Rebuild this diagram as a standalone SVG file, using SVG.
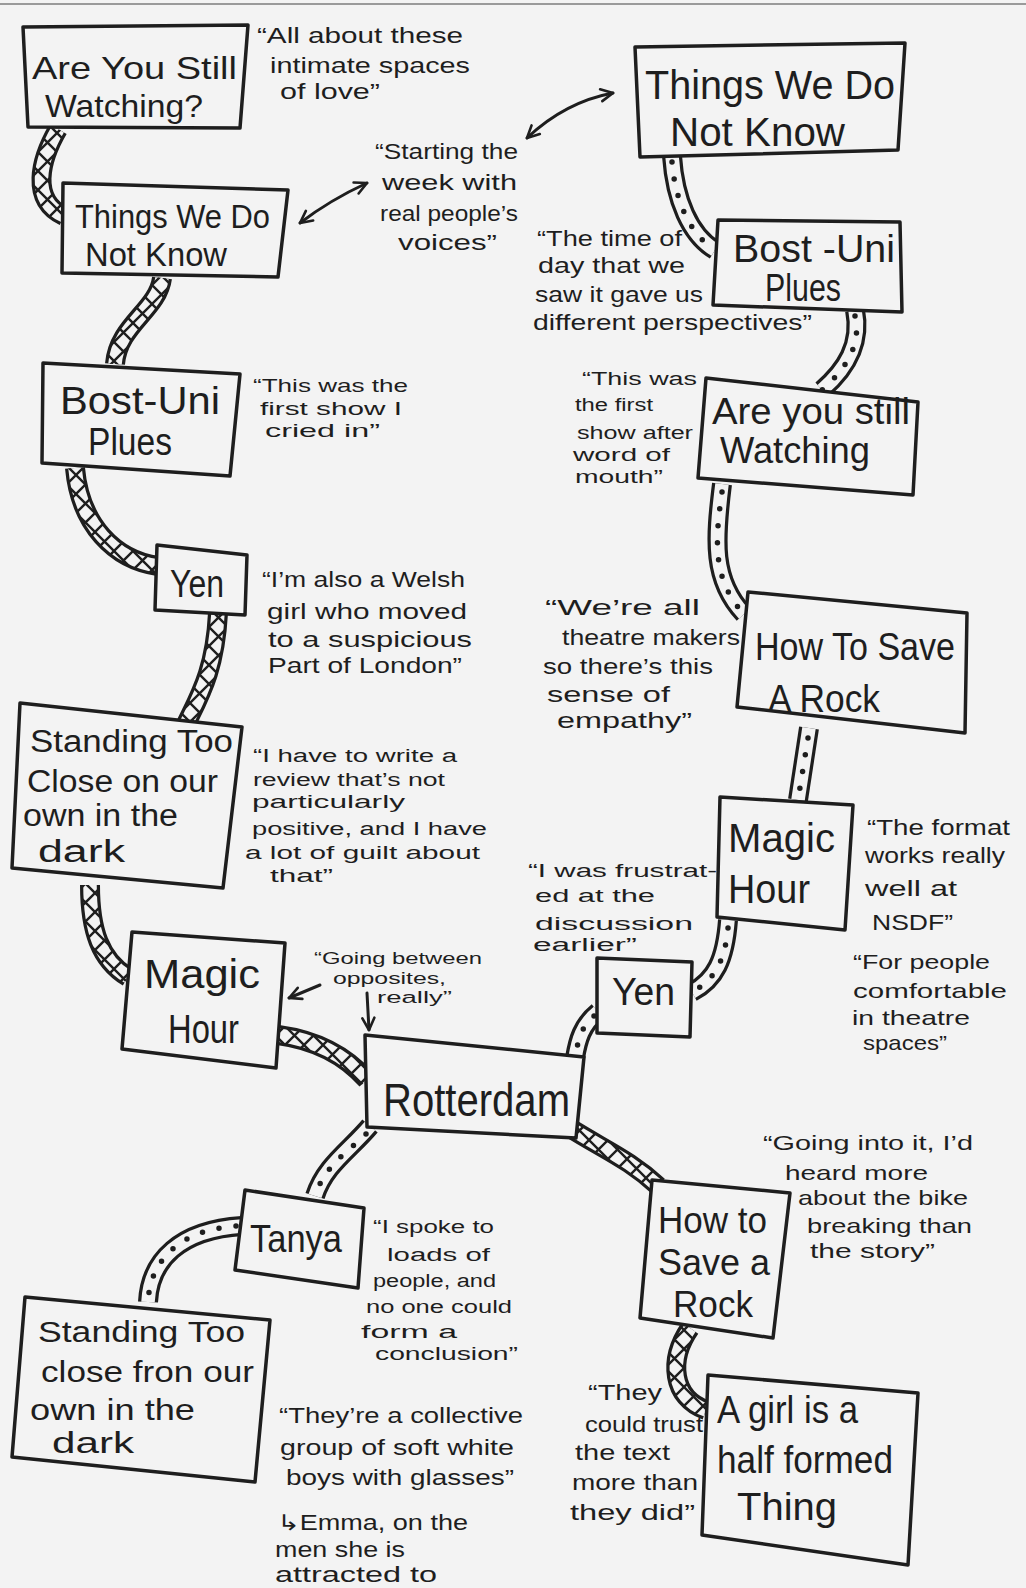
<svg xmlns="http://www.w3.org/2000/svg" width="1026" height="1588" viewBox="0 0 1026 1588">
<defs>
<style>
.bg{fill:#f3f3f3}
.box{fill:#f3f3f3;stroke:#1e1e1e;stroke-width:3.5;stroke-linejoin:round}
.nt{font-family:"Liberation Sans Narrow","Liberation Sans","DejaVu Sans",sans-serif;fill:#1e1e1e}
.qt{font-family:"Liberation Sans Narrow","Liberation Sans","DejaVu Sans",sans-serif;fill:#1e1e1e}
.ro{fill:none;stroke:#1e1e1e;stroke-width:20}
.rx{fill:none;stroke:url(#xh);stroke-width:13.5}
.rd{fill:none;stroke:#f3f3f3;stroke-width:13.5}
.dots{fill:none;stroke:#1e1e1e;stroke-width:5.5;stroke-linecap:round;stroke-dasharray:0 17}
.arr{fill:none;stroke:#1e1e1e;stroke-width:3;stroke-linecap:round}
</style>
<pattern id="xh" patternUnits="userSpaceOnUse" width="19" height="19">
<rect width="19" height="19" fill="#f3f3f3"/>
<path d="M0,0 L19,19 M19,0 L0,19" stroke="#1e1e1e" stroke-width="2.4"/>
</pattern>
<marker id="ah" viewBox="0 0 16 16" refX="14" refY="8" markerWidth="16" markerHeight="16" orient="auto-start-reverse" markerUnits="userSpaceOnUse">
<path d="M2,2 L14,8 L2,14" fill="none" stroke="#1e1e1e" stroke-width="2.6" stroke-linecap="round" stroke-linejoin="round"/>
</marker>
</defs>
<rect class="bg" x="0" y="0" width="1026" height="1588"/>
<line x1="0" y1="4" x2="1026" y2="4" stroke="#9a9a9a" stroke-width="2"/>

<g id="connectors">
<g id="c1"><path class="ro" d="M58,129 C40,160 30,200 64,216"/><path class="rx" d="M58,129 C40,160 30,200 64,216"/></g>
<g id="c2"><path class="ro" d="M162,278 C158,310 118,325 115,364"/><path class="rx" d="M162,278 C158,310 118,325 115,364"/></g>
<g id="c3"><path class="ro" d="M75,468 C80,525 115,560 158,566"/><path class="rx" d="M75,468 C80,525 115,560 158,566"/></g>
<g id="c4"><path class="ro" d="M218,613 C215,670 200,695 186,724"/><path class="rx" d="M218,613 C215,670 200,695 186,724"/></g>
<g id="c5"><path class="ro" d="M90,885 C90,930 100,960 128,977"/><path class="rx" d="M90,885 C90,930 100,960 128,977"/></g>
<g id="c6"><path class="ro" d="M278,1035 C315,1040 345,1055 367,1080"/><path class="rx" d="M278,1035 C315,1040 345,1055 367,1080"/></g>
<g id="c7"><path class="ro" d="M570,1128 C605,1150 630,1160 658,1186"/><path class="rx" d="M570,1128 C605,1150 630,1160 658,1186"/></g>
<g id="c8"><path class="ro" d="M690,1328 C668,1360 672,1398 706,1410"/><path class="rx" d="M690,1328 C668,1360 672,1398 706,1410"/></g>
<g id="d1"><path class="ro" d="M672,156 C675,200 690,235 715,250"/><path class="rd" d="M672,156 C675,200 690,235 715,250"/><path class="dots" d="M672,162 C675,200 690,235 715,250"/></g>
<g id="d2"><path class="ro" d="M855,310 C862,345 845,370 822,390"/><path class="rd" d="M855,310 C862,345 845,370 822,390"/><path class="dots" d="M855,316 C862,345 845,370 822,390"/></g>
<g id="d3"><path class="ro" d="M722,484 C715,540 712,580 744,614"/><path class="rd" d="M722,484 C715,540 712,580 744,614"/><path class="dots" d="M722,492 C715,540 712,580 744,614"/></g>
<g id="d4"><path class="ro" d="M809,728 L798,800"/><path class="rd" d="M809,728 L798,800"/><path class="dots" d="M808,738 L798,800"/></g>
<g id="d5"><path class="ro" d="M728,920 C725,960 715,980 692,992"/><path class="rd" d="M728,920 C725,960 715,980 692,992"/><path class="dots" d="M728,928 C725,960 715,980 692,992"/></g>
<g id="d6"><path class="ro" d="M598,1012 C582,1025 578,1040 575,1058"/><path class="rd" d="M598,1012 C582,1025 578,1040 575,1058"/><path class="dots" d="M594,1016 C582,1025 578,1040 575,1058"/></g>
<g id="d7"><path class="ro" d="M370,1126 C350,1150 325,1165 315,1196"/><path class="rd" d="M370,1126 C350,1150 325,1165 315,1196"/><path class="dots" d="M366,1134 C350,1150 325,1165 315,1196"/></g>
<g id="d8"><path class="ro" d="M242,1226 C180,1230 150,1260 148,1302"/><path class="rd" d="M242,1226 C180,1230 150,1260 148,1302"/><path class="dots" d="M236,1226 C180,1230 150,1260 148,1302"/></g>
<path class="arr" d="M300,223 Q330,200 367,183" marker-start="url(#ah)" marker-end="url(#ah)"/>
<path class="arr" d="M527,138 Q565,102 613,93" marker-start="url(#ah)" marker-end="url(#ah)"/>
<path class="arr" d="M320,985 L289,998" marker-end="url(#ah)"/>
<path class="arr" d="M367,993 L369,1030" marker-end="url(#ah)"/>
</g>

<g id="n1" class="nt" style="font-size:32px"><polygon class="box" points="23,27 248,25 240,128 28,127"/>
<text x="32" y="79" textLength="205" lengthAdjust="spacingAndGlyphs">Are You Still</text>
<text x="45" y="117" textLength="158" lengthAdjust="spacingAndGlyphs">Watching?</text></g>

<g id="n2" class="nt" style="font-size:34px"><polygon class="box" points="63,183 288,190 278,277 62,273"/>
<text x="75" y="228" textLength="195" lengthAdjust="spacingAndGlyphs">Things We Do</text>
<text x="85" y="266" textLength="142" lengthAdjust="spacingAndGlyphs">Not Know</text></g>

<g id="n3" class="nt" style="font-size:38px"><polygon class="box" points="43,363 240,374 230,476 42,463"/>
<text x="60" y="414" textLength="160" lengthAdjust="spacingAndGlyphs">Bost-Uni</text>
<text x="88" y="455" textLength="84" lengthAdjust="spacingAndGlyphs">Plues</text></g>

<g id="n4" class="nt" style="font-size:38px"><polygon class="box" points="157,545 247,555 245,615 155,610"/>
<text x="170" y="597" textLength="54" lengthAdjust="spacingAndGlyphs">Yen</text></g>

<g id="n5" class="nt" style="font-size:31px"><polygon class="box" points="20,703 242,727 223,888 12,868"/>
<text x="30" y="752" textLength="203" lengthAdjust="spacingAndGlyphs">Standing Too</text>
<text x="27" y="792" textLength="191" lengthAdjust="spacingAndGlyphs">Close on our</text>
<text x="23" y="826" textLength="155" lengthAdjust="spacingAndGlyphs">own in the</text>
<text x="38" y="862" textLength="87" lengthAdjust="spacingAndGlyphs">dark</text></g>

<g id="n6" class="nt" style="font-size:40px"><polygon class="box" points="132,932 285,943 276,1068 122,1049"/>
<text x="144" y="988" textLength="116" lengthAdjust="spacingAndGlyphs">Magic</text>
<text x="168" y="1043" textLength="71" lengthAdjust="spacingAndGlyphs">Hour</text></g>

<g id="n7" class="nt" style="font-size:46px"><polygon class="box" points="365,1035 584,1057 576,1138 367,1127"/>
<text x="383" y="1116" textLength="187" lengthAdjust="spacingAndGlyphs">Rotterdam</text></g>

<g id="n8" class="nt" style="font-size:38px"><polygon class="box" points="245,1190 364,1208 358,1288 235,1270"/>
<text x="250" y="1252" textLength="92" lengthAdjust="spacingAndGlyphs">Tanya</text></g>

<g id="n9" class="nt" style="font-size:30px"><polygon class="box" points="25,1297 270,1320 255,1482 12,1457"/>
<text x="38" y="1342" textLength="207" lengthAdjust="spacingAndGlyphs">Standing Too</text>
<text x="41" y="1382" textLength="213" lengthAdjust="spacingAndGlyphs">close fron our</text>
<text x="30" y="1420" textLength="165" lengthAdjust="spacingAndGlyphs">own in the</text>
<text x="52" y="1453" textLength="82" lengthAdjust="spacingAndGlyphs">dark</text></g>

<g id="n10" class="nt" style="font-size:40px"><polygon class="box" points="635,47 905,43 898,150 640,157"/>
<text x="645" y="99" textLength="250" lengthAdjust="spacingAndGlyphs">Things We Do</text>
<text x="670" y="146" textLength="175" lengthAdjust="spacingAndGlyphs">Not Know</text></g>

<g id="n11" class="nt" style="font-size:38px"><polygon class="box" points="718,220 900,222 902,312 713,305"/>
<text x="733" y="262" textLength="162" lengthAdjust="spacingAndGlyphs">Bost -Uni</text>
<text x="765" y="301" textLength="76" lengthAdjust="spacingAndGlyphs">Plues</text></g>

<g id="n12" class="nt" style="font-size:36px"><polygon class="box" points="706,378 918,402 913,495 698,478"/>
<text x="712" y="424" textLength="198" lengthAdjust="spacingAndGlyphs">Are you still</text>
<text x="720" y="463" textLength="150" lengthAdjust="spacingAndGlyphs">Watching</text></g>

<g id="n13" class="nt" style="font-size:38px"><polygon class="box" points="748,592 967,613 965,733 737,707"/>
<text x="755" y="660" textLength="200" lengthAdjust="spacingAndGlyphs">How To Save</text>
<text x="768" y="712" textLength="112" lengthAdjust="spacingAndGlyphs">A Rock</text></g>

<g id="n14" class="nt" style="font-size:40px"><polygon class="box" points="720,797 853,805 845,930 717,917"/>
<text x="728" y="852" textLength="107" lengthAdjust="spacingAndGlyphs">Magic</text>
<text x="728" y="903" textLength="82" lengthAdjust="spacingAndGlyphs">Hour</text></g>

<g id="n15" class="nt" style="font-size:38px"><polygon class="box" points="597,958 692,962 690,1037 597,1033"/>
<text x="612" y="1005" textLength="63" lengthAdjust="spacingAndGlyphs">Yen</text></g>

<g id="n16" class="nt" style="font-size:36px"><polygon class="box" points="652,1180 790,1193 773,1338 640,1318"/>
<text x="658" y="1233" textLength="109" lengthAdjust="spacingAndGlyphs">How to</text>
<text x="658" y="1275" textLength="112" lengthAdjust="spacingAndGlyphs">Save a</text>
<text x="673" y="1317" textLength="80" lengthAdjust="spacingAndGlyphs">Rock</text></g>

<g id="n17" class="nt" style="font-size:38px"><polygon class="box" points="708,1375 918,1393 908,1565 702,1535"/>
<text x="717" y="1423" textLength="141" lengthAdjust="spacingAndGlyphs">A girl is a</text>
<text x="717" y="1473" textLength="176" lengthAdjust="spacingAndGlyphs">half formed</text>
<text x="737" y="1520" textLength="100" lengthAdjust="spacingAndGlyphs">Thing</text></g>

<g id="quotes">
<g id="q1" class="qt" style="font-size:22px">
<text x="257" y="43" textLength="206" lengthAdjust="spacingAndGlyphs">“All about these</text>
<text x="270" y="73" textLength="200" lengthAdjust="spacingAndGlyphs">intimate spaces</text>
<text x="280" y="99" textLength="100" lengthAdjust="spacingAndGlyphs">of love”</text></g>

<g id="q2" class="qt" style="font-size:22px">
<text x="375" y="159" textLength="143" lengthAdjust="spacingAndGlyphs">“Starting the</text>
<text x="382" y="190" textLength="135" lengthAdjust="spacingAndGlyphs">week with</text>
<text x="380" y="221" textLength="138" lengthAdjust="spacingAndGlyphs">real people’s</text>
<text x="398" y="250" textLength="99" lengthAdjust="spacingAndGlyphs">voices”</text></g>

<g id="q3" class="qt" style="font-size:22px">
<text x="537" y="246" textLength="145" lengthAdjust="spacingAndGlyphs">“The time of</text>
<text x="538" y="273" textLength="147" lengthAdjust="spacingAndGlyphs">day that we</text>
<text x="535" y="302" textLength="168" lengthAdjust="spacingAndGlyphs">saw it gave us</text>
<text x="533" y="330" textLength="279" lengthAdjust="spacingAndGlyphs">different perspectives”</text></g>

<g id="q4" class="qt" style="font-size:18px">
<text x="582" y="385" textLength="115" lengthAdjust="spacingAndGlyphs">“This was</text>
<text x="575" y="411" textLength="78" lengthAdjust="spacingAndGlyphs">the first</text>
<text x="577" y="439" textLength="116" lengthAdjust="spacingAndGlyphs">show after</text>
<text x="573" y="461" textLength="97" lengthAdjust="spacingAndGlyphs">word of</text>
<text x="575" y="483" textLength="88" lengthAdjust="spacingAndGlyphs">mouth”</text></g>

<g id="q5" class="qt" style="font-size:19px">
<text x="253" y="392" textLength="155" lengthAdjust="spacingAndGlyphs">“This was the</text>
<text x="260" y="415" textLength="142" lengthAdjust="spacingAndGlyphs">first show I</text>
<text x="265" y="437" textLength="115" lengthAdjust="spacingAndGlyphs">cried in”</text></g>

<g id="q6" class="qt" style="font-size:22px">
<text x="262" y="587" textLength="203" lengthAdjust="spacingAndGlyphs">“I’m also a Welsh</text>
<text x="267" y="619" textLength="200" lengthAdjust="spacingAndGlyphs">girl who moved</text>
<text x="268" y="647" textLength="204" lengthAdjust="spacingAndGlyphs">to a suspicious</text>
<text x="268" y="673" textLength="194" lengthAdjust="spacingAndGlyphs">Part of London”</text></g>

<g id="q7" class="qt" style="font-size:18px">
<text x="253" y="762" textLength="204" lengthAdjust="spacingAndGlyphs">“I have to write a</text>
<text x="253" y="786" textLength="192" lengthAdjust="spacingAndGlyphs">review that’s not</text>
<text x="252" y="808" textLength="153" lengthAdjust="spacingAndGlyphs">particularly</text>
<text x="252" y="835" textLength="235" lengthAdjust="spacingAndGlyphs">positive, and I have</text>
<text x="245" y="859" textLength="235" lengthAdjust="spacingAndGlyphs">a lot of guilt about</text>
<text x="270" y="882" textLength="63" lengthAdjust="spacingAndGlyphs">that”</text></g>

<g id="q8" class="qt" style="font-size:22px">
<text x="545" y="615" textLength="155" lengthAdjust="spacingAndGlyphs">“We’re all</text>
<text x="562" y="645" textLength="178" lengthAdjust="spacingAndGlyphs">theatre makers</text>
<text x="543" y="674" textLength="170" lengthAdjust="spacingAndGlyphs">so there’s this</text>
<text x="547" y="702" textLength="123" lengthAdjust="spacingAndGlyphs">sense of</text>
<text x="557" y="728" textLength="135" lengthAdjust="spacingAndGlyphs">empathy”</text></g>

<g id="q9" class="qt" style="font-size:22px">
<text x="867" y="835" textLength="143" lengthAdjust="spacingAndGlyphs">“The format</text>
<text x="865" y="863" textLength="140" lengthAdjust="spacingAndGlyphs">works really</text>
<text x="865" y="896" textLength="92" lengthAdjust="spacingAndGlyphs">well at</text>
<text x="872" y="930" textLength="81" lengthAdjust="spacingAndGlyphs">NSDF”</text></g>

<g id="q10" class="qt" style="font-size:21px">
<text x="853" y="969" textLength="137" lengthAdjust="spacingAndGlyphs">“For people</text>
<text x="853" y="998" textLength="154" lengthAdjust="spacingAndGlyphs">comfortable</text>
<text x="852" y="1025" textLength="118" lengthAdjust="spacingAndGlyphs">in theatre</text>
<text x="863" y="1050" textLength="84" lengthAdjust="spacingAndGlyphs">spaces”</text></g>

<g id="q11" class="qt" style="font-size:18px">
<text x="528" y="877" textLength="189" lengthAdjust="spacingAndGlyphs">“I was frustrat-</text>
<text x="535" y="902" textLength="120" lengthAdjust="spacingAndGlyphs">ed at the</text>
<text x="535" y="930" textLength="158" lengthAdjust="spacingAndGlyphs">discussion</text>
<text x="533" y="951" textLength="104" lengthAdjust="spacingAndGlyphs">earlier”</text></g>

<g id="q12" class="qt" style="font-size:16px">
<text x="314" y="964" textLength="168" lengthAdjust="spacingAndGlyphs">“Going between</text>
<text x="333" y="984" textLength="113" lengthAdjust="spacingAndGlyphs">opposites,</text>
<text x="377" y="1003" textLength="75" lengthAdjust="spacingAndGlyphs">really”</text></g>

<g id="q13" class="qt" style="font-size:18px">
<text x="373" y="1233" textLength="121" lengthAdjust="spacingAndGlyphs">“I spoke to</text>
<text x="387" y="1261" textLength="103" lengthAdjust="spacingAndGlyphs">loads of</text>
<text x="373" y="1287" textLength="123" lengthAdjust="spacingAndGlyphs">people, and</text>
<text x="366" y="1313" textLength="146" lengthAdjust="spacingAndGlyphs">no one could</text>
<text x="361" y="1338" textLength="96" lengthAdjust="spacingAndGlyphs">form a</text>
<text x="375" y="1360" textLength="143" lengthAdjust="spacingAndGlyphs">conclusion”</text></g>

<g id="q14" class="qt" style="font-size:22px">
<text x="279" y="1423" textLength="244" lengthAdjust="spacingAndGlyphs">“They’re a collective</text>
<text x="280" y="1455" textLength="234" lengthAdjust="spacingAndGlyphs">group of soft white</text>
<text x="286" y="1485" textLength="228" lengthAdjust="spacingAndGlyphs">boys with glasses”</text>
<text x="277" y="1530" textLength="191" lengthAdjust="spacingAndGlyphs">↳Emma, on the</text>
<text x="275" y="1557" textLength="130" lengthAdjust="spacingAndGlyphs">men she is</text>
<text x="275" y="1582" textLength="162" lengthAdjust="spacingAndGlyphs">attracted to</text></g>

<g id="q15" class="qt" style="font-size:21px">
<text x="763" y="1150" textLength="210" lengthAdjust="spacingAndGlyphs">“Going into it, I’d</text>
<text x="785" y="1180" textLength="143" lengthAdjust="spacingAndGlyphs">heard more</text>
<text x="798" y="1205" textLength="170" lengthAdjust="spacingAndGlyphs">about the bike</text>
<text x="807" y="1233" textLength="165" lengthAdjust="spacingAndGlyphs">breaking than</text>
<text x="810" y="1258" textLength="125" lengthAdjust="spacingAndGlyphs">the story”</text></g>

<g id="q16" class="qt" style="font-size:22px">
<text x="588" y="1400" textLength="74" lengthAdjust="spacingAndGlyphs">“They</text>
<text x="585" y="1432" textLength="118" lengthAdjust="spacingAndGlyphs">could trust</text>
<text x="575" y="1460" textLength="95" lengthAdjust="spacingAndGlyphs">the text</text>
<text x="572" y="1490" textLength="126" lengthAdjust="spacingAndGlyphs">more than</text>
<text x="570" y="1520" textLength="125" lengthAdjust="spacingAndGlyphs">they did”</text></g>
</g>
</svg>
